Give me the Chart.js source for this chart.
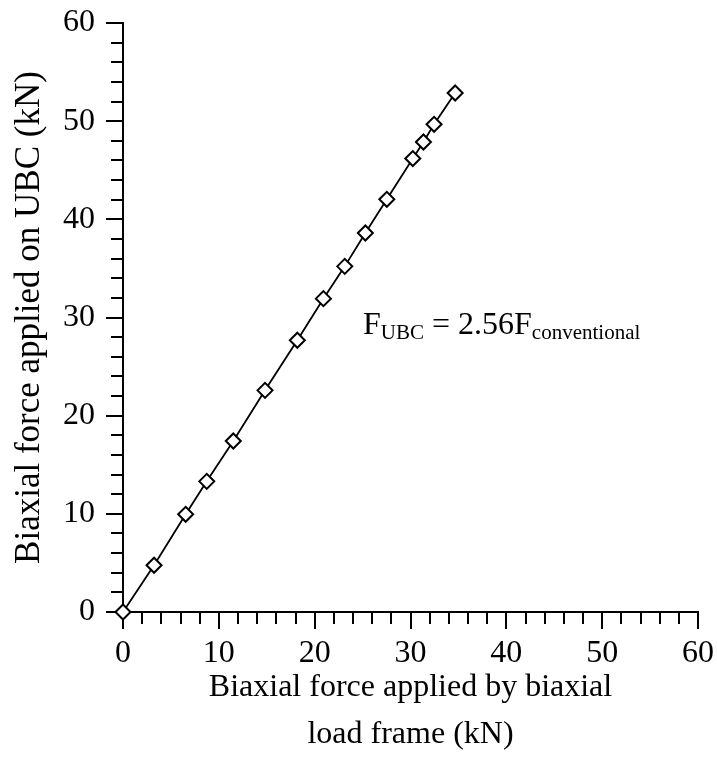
<!DOCTYPE html>
<html>
<head>
<meta charset="utf-8">
<script src="https://cdn.jsdelivr.net/npm/chart.js@4/dist/chart.umd.min.js"></script>
<style>
  html, body { margin: 0; padding: 0; background: #ffffff; }
  #wrap { width: 717px; height: 760px; }
</style>
</head>
<body>
<div id="wrap"><canvas id="c" width="717" height="760"></canvas></div>
<script>
// Measured forces (kN): conventional load frame vs. UBC
const conventionalForce = [0, 3.24, 6.54, 8.74, 11.51, 14.82, 18.19, 20.91, 23.14, 25.29, 27.53, 30.24, 31.35, 32.46, 34.66];
const ubcForce          = [0, 4.76, 9.95, 13.31, 17.42, 22.58, 27.68, 31.92, 35.21, 38.61, 42.04, 46.19, 47.88, 49.68, 52.87];

// Axis range and tick spacing (same for both axes)
const axisMin = 0;
const axisMax = 60;
const majorStep = 10;
const minorStep = 2;

const xTitle = ['Biaxial force applied by biaxial', 'load frame (kN)'];
const yTitle = 'Biaxial force applied on UBC (kN)';

// Fitted relation shown on the plot
const fitParts = [
  { text: 'F', sub: false },
  { text: 'UBC', sub: true },
  { text: ' = 2.56F', sub: false },
  { text: 'conventional', sub: true }
];

const FONT = '"Liberation Serif", "Times New Roman", serif';

// Outward major/minor tick marks, drawn from each scale's pixel mapping
const tickMarks = {
  id: 'tickMarks',
  beforeDatasetsDraw(chart) {
    const ctx = chart.ctx;
    const xs = chart.scales.x, ys = chart.scales.y;
    const area = chart.chartArea;
    ctx.save();
    ctx.strokeStyle = '#000';
    ctx.lineWidth = 2;
    ctx.beginPath();
    for (let v = axisMin; v <= axisMax; v += minorStep) {
      const len = (v % majorStep === 0) ? 17 : 12;
      const px = Math.round(xs.getPixelForValue(v));
      ctx.moveTo(px, area.bottom);
      ctx.lineTo(px, area.bottom + len);
      const py = Math.round(ys.getPixelForValue(v));
      ctx.moveTo(area.left, py);
      ctx.lineTo(area.left - len, py);
    }
    ctx.stroke();
    ctx.restore();
  }
};

// Regression label with subscripts
const fitLabel = {
  id: 'fitLabel',
  afterDraw(chart) {
    const ctx = chart.ctx;
    let x = 363;
    const baseline = 334;
    ctx.save();
    ctx.fillStyle = '#000';
    ctx.textBaseline = 'alphabetic';
    ctx.textAlign = 'left';
    for (const p of fitParts) {
      ctx.font = (p.sub ? '21px ' : '32px ') + FONT;
      ctx.fillText(p.text, x, p.sub ? baseline + 5 : baseline);
      x += ctx.measureText(p.text).width;
    }
    ctx.restore();
  }
};

const points = conventionalForce.map((x, i) => ({ x, y: ubcForce[i] }));

new Chart(document.getElementById('c'), {
  type: 'scatter',
  data: {
    datasets: [{
      data: points,
      showLine: true,
      borderColor: '#000',
      borderWidth: 1.8,
      tension: 0,
      pointStyle: 'rectRot',
      pointRadius: 7.5,
      pointHoverRadius: 7.5,
      pointBackgroundColor: '#fff',
      pointBorderColor: '#000',
      pointBorderWidth: 2,
      clip: false
    }]
  },
  options: {
    responsive: false,
    animation: false,
    devicePixelRatio: 1,
    layout: { padding: { top: 23, right: 19, bottom: 0, left: 0 } },
    plugins: {
      legend: { display: false },
      tooltip: { enabled: false }
    },
    scales: {
      x: {
        type: 'linear',
        min: axisMin,
        max: axisMax,
        afterFit(scale) {
          scale.height = 148;
          scale.paddingLeft = 0;
          scale.paddingRight = 0;
        },
        grid: { display: false, drawTicks: true, tickLength: 17 },
        border: { display: true, color: '#000', width: 2 },
        ticks: {
          stepSize: majorStep,
          autoSkip: false,
          maxRotation: 0,
          color: '#000',
          padding: 5,
          font: { family: FONT, size: 32 }
        },
        title: {
          display: true,
          text: xTitle,
          color: '#000',
          font: { family: FONT, size: 32, lineHeight: 1.47 },
          padding: { top: 0, bottom: 1.5 }
        }
      },
      y: {
        type: 'linear',
        min: axisMin,
        max: axisMax,
        afterFit(scale) {
          scale.width = 123;
          scale.paddingTop = 0;
          scale.paddingBottom = 0;
        },
        grid: { display: false, drawTicks: true, tickLength: 17 },
        border: { display: true, color: '#000', width: 2 },
        ticks: {
          stepSize: majorStep,
          autoSkip: false,
          color: '#000',
          padding: 11,
          font: { family: FONT, size: 32 }
        },
        title: {
          display: true,
          text: yTitle,
          color: '#000',
          font: { family: FONT, size: 35 },
          padding: { top: 9, bottom: 0 }
        }
      }
    }
  },
  plugins: [tickMarks, fitLabel]
});
</script>
</body>
</html>
